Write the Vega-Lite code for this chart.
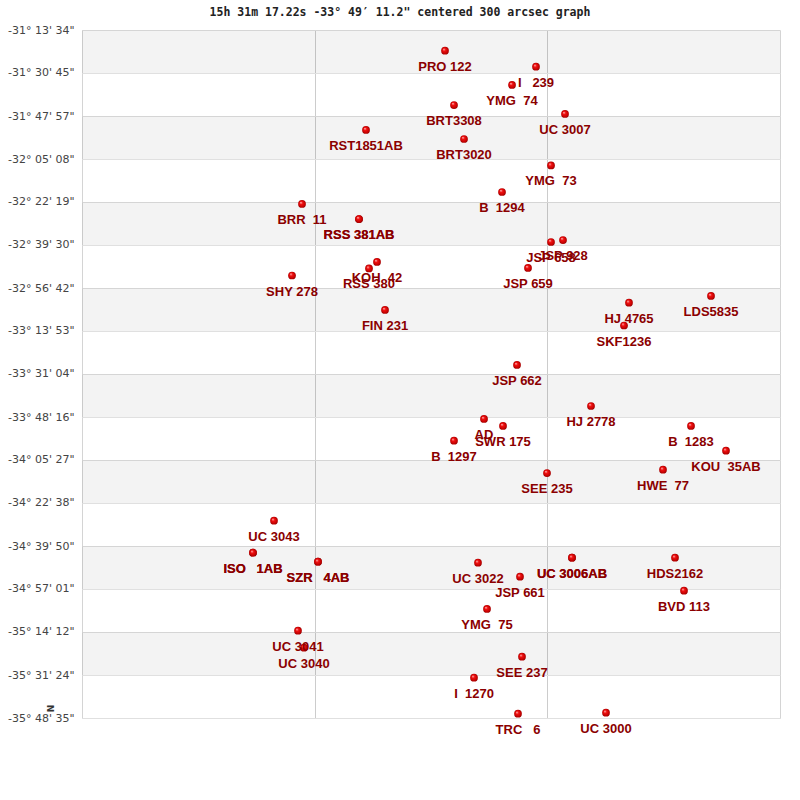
{
  "$schema": "https://vega.github.io/schema/vega-lite/v6.json",
  "width": 698,
  "height": 688,
  "autosize": {"type": "none"},
  "padding": {"left": 82, "top": 30, "right": 20, "bottom": 82},
  "background": "#ffffff",
  "title": {
    "text": "15h 31m 17.22s -33° 49′ 11.2\" centered 300 arcsec graph",
    "font": "DejaVu Sans Mono",
    "fontWeight": "bold",
    "fontSize": 11.5,
    "color": "#222222",
    "anchor": "middle",
    "dx": -31,
    "offset": 6
  },
  "config": {
    "view": {"stroke": "#d4d4d4", "strokeWidth": 1}
  },
  "datasets": {
    "bands": [
      {"dec": -31.226111, "dec_end": -31.5125},
      {"dec": -31.799167, "dec_end": -32.085556},
      {"dec": -32.371944, "dec_end": -32.658333},
      {"dec": -32.945, "dec_end": -33.231389},
      {"dec": -33.517778, "dec_end": -33.804444},
      {"dec": -34.090833, "dec_end": -34.377222},
      {"dec": -34.663889, "dec_end": -34.950278},
      {"dec": -35.236667, "dec_end": -35.523333}
    ],
    "stars": [
      {"name": "PRO 122", "ra": 363, "dec": -31.3640},
      {"name": "I\u00a0\u00a0\u00a0239", "ra": 454, "dec": -31.4706},
      {"name": "YMG\u00a0\u00a074", "ra": 430, "dec": -31.5925},
      {"name": "BRT3308", "ra": 372, "dec": -31.7258},
      {"name": "UC 3007", "ra": 483, "dec": -31.7857},
      {"name": "RST1851AB", "ra": 284, "dec": -31.8923},
      {"name": "BRT3020", "ra": 382, "dec": -31.9523},
      {"name": "YMG\u00a0\u00a073", "ra": 469, "dec": -32.1288},
      {"name": "B\u00a0\u00a01294", "ra": 420, "dec": -32.3054},
      {"name": "BRR\u00a0\u00a011", "ra": 220, "dec": -32.3853},
      {"name": "RSS 381AB", "ra": 277, "dec": -32.4853},
      {"name": "RSS 381AB", "ra": 277, "dec": -32.4853},
      {"name": "JSP 928", "ra": 481, "dec": -32.6252},
      {"name": "JSP 658", "ra": 469, "dec": -32.6385},
      {"name": "KOH\u00a0\u00a042", "ra": 295, "dec": -32.7717},
      {"name": "RSS 380", "ra": 287, "dec": -32.8150},
      {"name": "JSP 659", "ra": 446, "dec": -32.8117},
      {"name": "SHY 278", "ra": 210, "dec": -32.8617},
      {"name": "LDS5835", "ra": 629, "dec": -32.9982},
      {"name": "HJ 4765", "ra": 547, "dec": -33.0429},
      {"name": "FIN 231", "ra": 303, "dec": -33.0915},
      {"name": "SKF1236", "ra": 542, "dec": -33.1948},
      {"name": "JSP 662", "ra": 435, "dec": -33.4579},
      {"name": "HJ 2778", "ra": 509, "dec": -33.7311},
      {"name": "AD", "ra": 402, "dec": -33.8177},
      {"name": "SWR 175", "ra": 421, "dec": -33.8643},
      {"name": "B\u00a0\u00a01283", "ra": 609, "dec": -33.8643},
      {"name": "B\u00a0\u00a01297", "ra": 372, "dec": -33.9623},
      {"name": "KOU\u00a0\u00a035AB", "ra": 644, "dec": -34.0289},
      {"name": "HWE\u00a0\u00a077", "ra": 581, "dec": -34.1555},
      {"name": "SEE 235", "ra": 465, "dec": -34.1775},
      {"name": "UC 3043", "ra": 192, "dec": -34.4953},
      {"name": "ISO\u00a0\u00a0\u00a01AB", "ra": 171, "dec": -34.7084},
      {"name": "ISO\u00a0\u00a0\u00a01AB", "ra": 171, "dec": -34.7084},
      {"name": "UC 3006AB", "ra": 490, "dec": -34.7418},
      {"name": "UC 3006AB", "ra": 490, "dec": -34.7418},
      {"name": "HDS2162", "ra": 593, "dec": -34.7418},
      {"name": "SZR\u00a0\u00a0\u00a04AB", "ra": 236, "dec": -34.7684},
      {"name": "SZR\u00a0\u00a0\u00a04AB", "ra": 236, "dec": -34.7684},
      {"name": "UC 3022", "ra": 396, "dec": -34.7751},
      {"name": "JSP 661", "ra": 438, "dec": -34.8683},
      {"name": "BVD 113", "ra": 602, "dec": -34.9616},
      {"name": "YMG\u00a0\u00a075", "ra": 405, "dec": -35.0835},
      {"name": "UC 3041", "ra": 216, "dec": -35.2281},
      {"name": "UC 3040", "ra": 222, "dec": -35.3413},
      {"name": "SEE 237", "ra": 440, "dec": -35.4013},
      {"name": "I\u00a0\u00a01270", "ra": 392, "dec": -35.5412},
      {"name": "UC 3000", "ra": 524, "dec": -35.7744},
      {"name": "TRC\u00a0\u00a0\u00a06", "ra": 436, "dec": -35.7811}
    ]
  },
  "layer": [
    {
      "data": {"name": "bands"},
      "mark": {"type": "rect", "fill": "#000000", "fillOpacity": 0.047, "strokeWidth": 0},
      "encoding": {
        "y": {
          "field": "dec",
          "type": "quantitative",
          "scale": {"domain": [-35.809722, -31.226111], "nice": false, "zero": false},
          "axis": {
            "title": "N",
            "titleFont": "DejaVu Sans",
            "titleFontWeight": "bold",
            "titleFontSize": 9,
            "titleColor": "#333333",
            "titleX": -27,
            "titleY": 678,
            "values": [-31.226111, -31.5125, -31.799167, -32.085556, -32.371944, -32.658333, -32.945, -33.231389, -33.517778, -33.804444, -34.090833, -34.377222, -34.663889, -34.950278, -35.236667, -35.523333, -35.809722],
            "labelExpr": "'-' + floor(round(-datum.value*3600)/3600) + '° ' + (floor((round(-datum.value*3600)%3600)/60) < 10 ? '0' : '') + floor((round(-datum.value*3600)%3600)/60) + \"' \" + (round(-datum.value*3600)%60 < 10 ? '0' : '') + (round(-datum.value*3600)%60) + '\"'",
            "labelFont": "DejaVu Sans",
            "labelFontSize": 11,
            "labelColor": "#444444",
            "labelPadding": 8,
            "labelFlush": false,
            "labelOverlap": false,
            "ticks": false,
            "domain": false,
            "grid": true,
            "gridColor": "#e0e0e0",
            "gridWidth": 1
          }
        },
        "y2": {"field": "dec_end"}
      }
    },
    {
      "data": {"name": "stars"},
      "mark": {
        "type": "point",
        "shape": "circle",
        "filled": true,
        "size": 60,
        "strokeWidth": 0,
        "opacity": 1,
        "fill": {
          "gradient": "radial",
          "x1": 0.35, "y1": 0.3, "r1": 0,
          "x2": 0.5, "y2": 0.5, "r2": 0.55,
          "stops": [
            {"offset": 0, "color": "#ffc0c0"},
            {"offset": 0.35, "color": "#f01010"},
            {"offset": 0.8, "color": "#c00000"},
            {"offset": 1, "color": "#800000"}
          ]
        }
      },
      "encoding": {
        "x": {
          "field": "ra",
          "type": "quantitative",
          "scale": {"domain": [0, 698], "nice": false, "zero": false},
          "axis": {
            "title": null,
            "values": [233.3, 465.3],
            "labels": false,
            "ticks": false,
            "domain": false,
            "grid": true,
            "gridColor": "#cccccc",
            "gridWidth": 1
          }
        },
        "y": {"field": "dec", "type": "quantitative", "axis": {"title": "N"}}
      }
    },
    {
      "data": {"name": "stars"},
      "mark": {
        "type": "text",
        "font": "Liberation Sans",
        "fontWeight": "bold",
        "fontSize": 13,
        "fill": "#8b0000",
        "align": "center",
        "baseline": "alphabetic",
        "dy": 20
      },
      "encoding": {
        "x": {"field": "ra", "type": "quantitative", "axis": {"title": null}},
        "y": {"field": "dec", "type": "quantitative", "axis": {"title": "N"}},
        "text": {"field": "name"}
      }
    }
  ]
}
